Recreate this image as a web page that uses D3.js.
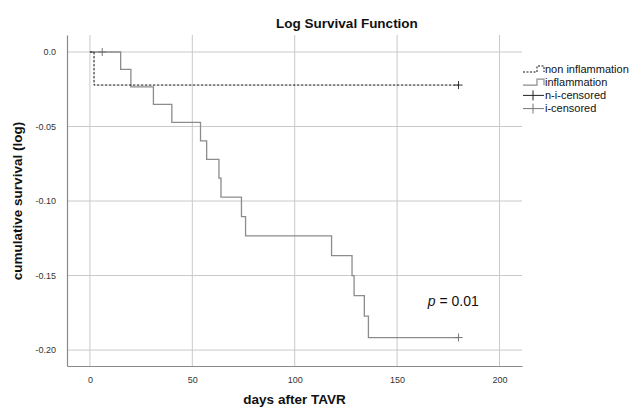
<!DOCTYPE html>
<html>
<head>
<meta charset="utf-8">
<script src="https://cdn.jsdelivr.net/npm/d3@7"></script>
<style>
  body { margin: 0; background: #fff; }
  svg { font-family: "Liberation Sans", Arial, Helvetica, sans-serif; }
</style>
</head>
<body>
<div class="chart"></div>
<script>
var svgWidth = 630;
var svgHeight = 408;

// plot frame (pixels)
var margin = { top: 35, right: 108, bottom: 42, left: 67 };
var width = svgWidth - margin.left - margin.right;
var height = svgHeight - margin.top - margin.bottom;

// data
var xTicks = [0, 50, 100, 150, 200];
var yTicks = [0, -0.05, -0.10, -0.15, -0.20];
var yTickLabels = ["0.0", "-0.05", "-0.10", "-0.15", "-0.20"];

// non inflammation: step times and log survival
var nonInflTimes = [0, 2, 180];
var nonInflLogS = [0, -0.0222, -0.0222];
var nonInflCensored = [180];

// inflammation: step times and log survival
var inflTimes = [0, 15, 20, 31, 40, 54, 57, 63, 64, 74, 76, 118, 128, 129, 134, 136, 180];
var inflLogS = [0, -0.0117, -0.0234, -0.0352, -0.0472, -0.0596, -0.0721, -0.0847, -0.0974, -0.1105, -0.1234, -0.1367, -0.1500, -0.1635, -0.1772, -0.1916, -0.1916];
var inflCensored = [[6, 0], [180, -0.1916]];

var legendLabels = ["non inflammation", "inflammation", "n-i-censored", "i-censored"];

var svg = d3.select(".chart")
  .append("svg")
  .attr("width", svgWidth)
  .attr("height", svgHeight);

var chartGroup = svg.append("g")
  .attr("transform", `translate(${margin.left}, ${margin.top})`);

var x = d3.scaleLinear().domain([-11.2, 211]).range([0, width]);
var y = d3.scaleLinear().domain([0.0114, -0.2107]).range([0, height]);

// gridlines
chartGroup.append("g")
  .selectAll("line.vg")
  .data(xTicks)
  .enter()
  .append("line")
  .attr("x1", d => x(d)).attr("x2", d => x(d))
  .attr("y1", 0).attr("y2", height)
  .attr("stroke", "#c9c9c9");

chartGroup.append("g")
  .selectAll("line.hg")
  .data(yTicks)
  .enter()
  .append("line")
  .attr("x1", 0).attr("x2", width)
  .attr("y1", d => y(d)).attr("y2", d => y(d))
  .attr("stroke", "#c9c9c9");

// axes
var bottomAxis = d3.axisBottom(x).tickValues(xTicks).tickSize(0).tickPadding(11);
var leftAxis = d3.axisLeft(y).tickValues(yTicks).tickSize(0).tickPadding(11)
  .tickFormat((d, i) => yTickLabels[i]);

var xAxis = chartGroup.append("g")
  .attr("transform", `translate(0, ${height})`)
  .call(bottomAxis);
var yAxis = chartGroup.append("g").call(leftAxis);

[xAxis, yAxis].forEach(function(a) {
  a.select(".domain").attr("stroke", "#8a8a8a").attr("stroke-width", 1.2);
  a.selectAll("text").attr("font-size", 9).attr("fill", "#333")
    .attr("font-family", "'Liberation Sans', Arial, sans-serif");
});

// step curves
var stepLine = d3.line()
  .x(d => x(d[0]))
  .y(d => y(d[1]))
  .curve(d3.curveStepAfter);

var nonInflData = nonInflTimes.map((t, i) => [t, nonInflLogS[i]]);
var inflData = inflTimes.map((t, i) => [t, inflLogS[i]]);

chartGroup.append("path")
  .datum(inflData)
  .attr("d", stepLine)
  .attr("fill", "none")
  .attr("stroke", "#8c8c8c")
  .attr("stroke-width", 1.3);

chartGroup.append("path")
  .datum(nonInflData)
  .attr("d", stepLine)
  .attr("fill", "none")
  .attr("stroke", "#111")
  .attr("stroke-width", 1)
  .attr("stroke-dasharray", "2.5,1.5");

// censor marks
function cross(g, cx, cy, color) {
  g.append("line").attr("x1", cx - 4).attr("x2", cx + 4).attr("y1", cy).attr("y2", cy)
    .attr("stroke", color).attr("stroke-width", 1);
  g.append("line").attr("x1", cx).attr("x2", cx).attr("y1", cy - 4).attr("y2", cy + 4)
    .attr("stroke", color).attr("stroke-width", 1);
}

nonInflCensored.forEach(function(t) {
  cross(chartGroup, x(t), y(nonInflLogS[nonInflLogS.length - 1]), "#333");
});
inflCensored.forEach(function(d) {
  cross(chartGroup, x(d[0]), y(d[1]), "#777");
});

// p value
var pText = chartGroup.append("text")
  .attr("x", x(165))
  .attr("y", y(-0.1705))
  .attr("font-size", 14)
  .attr("fill", "#111");
pText.append("tspan").attr("font-style", "italic").text("p");
pText.append("tspan").text(" = 0.01");

// title and axis titles
svg.append("text")
  .attr("x", 347)
  .attr("y", 28)
  .attr("text-anchor", "middle")
  .attr("font-size", 13.5)
  .attr("font-weight", "bold")
  .attr("fill", "#111")
  .text("Log Survival Function");

svg.append("text")
  .attr("x", margin.left + width / 2)
  .attr("y", 404)
  .attr("text-anchor", "middle")
  .attr("font-size", 13.5)
  .attr("font-weight", "bold")
  .attr("fill", "#111")
  .text("days after TAVR");

svg.append("text")
  .attr("transform", `translate(22, ${margin.top + y(-0.1)}) rotate(-90)`)
  .attr("text-anchor", "middle")
  .attr("font-size", 13.5)
  .attr("font-weight", "bold")
  .attr("fill", "#111")
  .text("cumulative survival (log)");

// legend
var legend = svg.append("g").attr("transform", "translate(523, 69)");
var rowH = 13.2;

legendLabels.forEach(function(label, i) {
  var g = legend.append("g").attr("transform", `translate(0, ${i * rowH})`);
  if (i === 0) {
    g.append("path").attr("d", "M0,3 H14 V-3 H21 V3")
      .attr("fill", "none").attr("stroke", "#111").attr("stroke-dasharray", "2,1.5");
  } else if (i === 1) {
    g.append("path").attr("d", "M0,3 H14 V-3 H21 V3")
      .attr("fill", "none").attr("stroke", "#8c8c8c").attr("stroke-width", 1.2);
  } else {
    var c = i === 2 ? "#222" : "#777";
    g.append("line").attr("x1", 0).attr("x2", 21).attr("y1", 0).attr("y2", 0).attr("stroke", c);
    g.append("line").attr("x1", 10).attr("x2", 10).attr("y1", -5).attr("y2", 5).attr("stroke", c);
  }
  g.append("text")
    .attr("x", 22)
    .attr("y", 0)
    .attr("dy", "0.35em")
    .attr("font-size", 11)
    .attr("fill", "#111")
    .text(label);
});
</script>
</body>
</html>
